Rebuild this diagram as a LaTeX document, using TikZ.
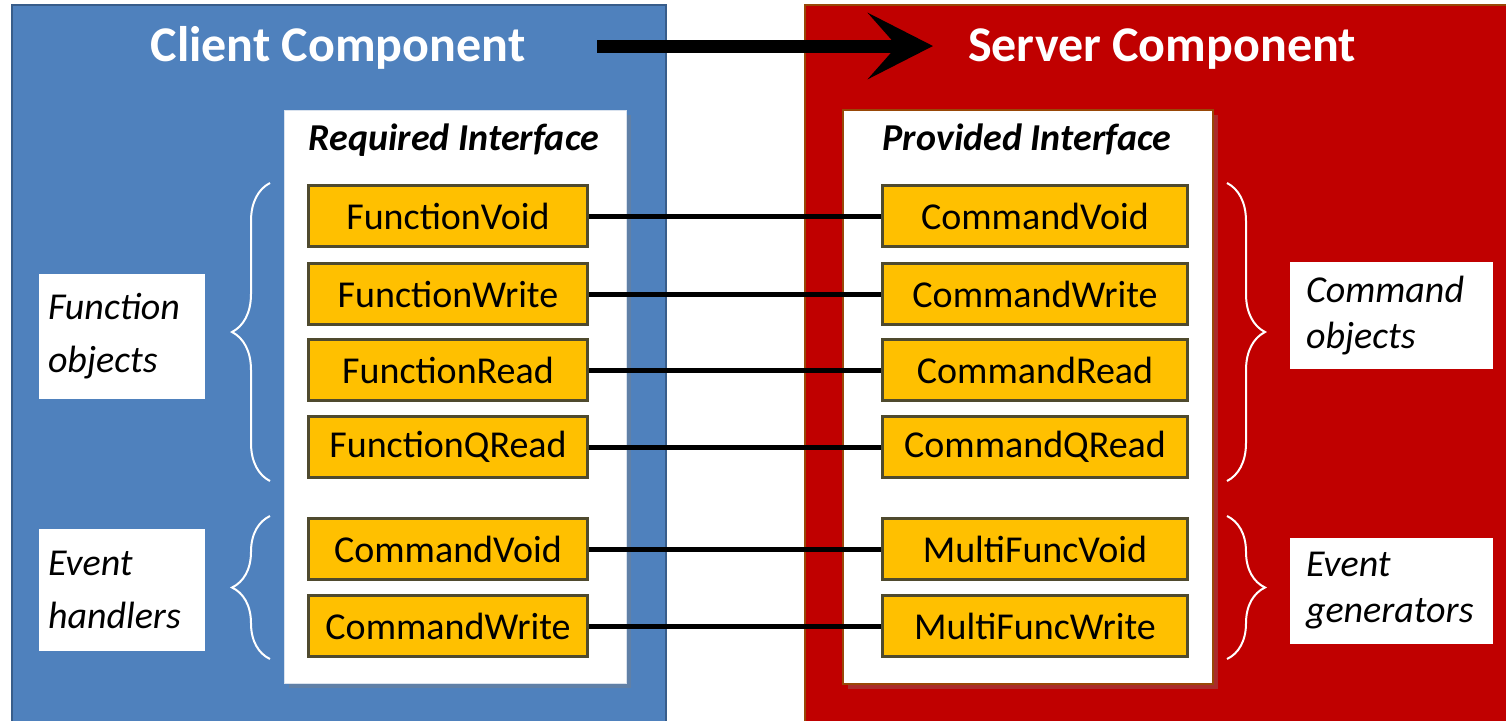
\documentclass[tikz,border=0pt]{standalone}
\usepackage{fontspec}
\setmainfont{Carlito}
\usetikzlibrary{arrows.meta,shadows,decorations.pathreplacing}
\definecolor{panelblue}{HTML}{4F81BD}
\definecolor{panelblueedge}{HTML}{385D8A}
\definecolor{panelred}{HTML}{C00000}
\definecolor{brownedge}{HTML}{984807}
\definecolor{boxorange}{HTML}{FFC000}
\definecolor{boxedge}{HTML}{4F4A2E}
\definecolor{paleedge}{HTML}{D9E2EE}
\begin{document}
\begin{tikzpicture}[x=0.5pt,y=-0.5pt,
  panel/.style={rectangle, line width=1pt, inner sep=0pt},
  ptitle/.style={text=white, font=\fontsize{25}{30}\selectfont\bfseries, inner sep=0pt, anchor=base},
  ibox/.style={rectangle, fill=white, inner sep=0pt, drop shadow={shadow xshift=2.5pt, shadow yshift=-2.5pt, opacity=0.35}},
  ititle/.style={font=\fontsize{19}{23}\selectfont\bfseries\itshape, inner sep=0pt, anchor=base},
  obox/.style={rectangle, fill=boxorange, draw=boxedge, line width=1.5pt, inner sep=0pt, font=\fontsize{19}{23}\selectfont},
  lobox/.style={obox, minimum width=139.5pt, minimum height=30.5pt},
  robox/.style={obox, minimum width=152.5pt, minimum height=30.5pt},
  conn/.style={line width=2.5pt, draw=black},
  lbl/.style={rectangle, fill=white, inner ysep=0pt, align=left},
  leftlbl/.style={lbl, inner xsep=4.5pt, text width=74pt, font=\fontsize{19}{26.5}\selectfont\itshape},
  rightlbl/.style={lbl, inner xsep=8pt, text width=85.5pt, font=\fontsize{19}{23}\selectfont\itshape},
  bracestyle/.style={draw=white, line width=1pt, decorate, decoration={brace, amplitude=19pt, aspect=0.5}},
  bigarrow/.style={line width=6.5pt, draw=black, -{Stealth[length=32.5pt, width=33pt, inset=14.5pt]}}
]
\useasboundingbox (0,0) rectangle (1506,720);
% panels
\node[panel, fill=panelblue, draw=panelblueedge, minimum width=327pt, minimum height=362pt] (client) at (339,367) {};
\node[panel, fill=panelred, draw=brownedge, minimum width=353pt, minimum height=362pt] (server) at (1158,367) {};
\node[ptitle] (clientT) at (338,61) {Client Component};
\node[ptitle] (serverT) at (1162,61) {Server Component};
% big arrow
\coordinate (arrS) at (597,46);
\coordinate (arrE) at (933,46);
\draw[bigarrow] (arrS) -- (arrE);
% interface boxes
\node[ibox, draw=paleedge, line width=0.5pt, minimum width=171pt, minimum height=286.5pt] (req) at (455,396.5) {};
\node[ibox, draw=brownedge, line width=0.8pt, minimum width=185pt, minimum height=287pt] (prov) at (1028,397) {};
\node[ititle] (reqT) at (454,150) {Required Interface};
\node[ititle] (provT) at (1027,150) {Provided Interface};
% left boxes
\node[lobox] (l1) at (448,216) {FunctionVoid};
\node[lobox] (l2) at (448,294) {FunctionWrite};
\node[lobox] (l3) at (448,370) {FunctionRead};
\node[lobox] (l4) at (448,447) {FunctionQRead};
\node[lobox] (l5) at (448,549) {CommandVoid};
\node[lobox] (l6) at (448,626) {CommandWrite};
% right boxes
\node[robox] (r1) at (1035,216) {CommandVoid};
\node[robox] (r2) at (1035,294) {CommandWrite};
\node[robox] (r3) at (1035,370) {CommandRead};
\node[robox] (r4) at (1035,447) {CommandQRead};
\node[robox] (r5) at (1035,549) {MultiFuncVoid};
\node[robox] (r6) at (1035,626) {MultiFuncWrite};
% connectors
\foreach \i in {1,...,6} { \draw[conn] (l\i.east) -- (r\i.west); }
% braces
\coordinate (lbA) at (270,481);
\coordinate (lbB) at (270,183);
\coordinate (lbC) at (270,659);
\coordinate (lbD) at (270,516);
\coordinate (rbA) at (1227,183);
\coordinate (rbB) at (1227,481);
\coordinate (rbC) at (1227,516);
\coordinate (rbD) at (1227,659);
\draw[bracestyle] (lbA) -- (lbB);
\draw[bracestyle] (lbC) -- (lbD);
\draw[bracestyle] (rbA) -- (rbB);
\draw[bracestyle] (rbC) -- (rbD);
% labels
\node[leftlbl, minimum height=62.5pt] (funcobj) at (122,336.5) {Function\\objects};
\node[leftlbl, minimum height=61pt] (evhand) at (122,590) {Event\\handlers};
\node[rightlbl, minimum height=53.5pt] (cmdobj) at (1391.5,315.5) {Command\\objects};
\node[rightlbl, minimum height=53pt] (evgen) at (1391.5,591) {Event\\generators};
\end{tikzpicture}
\end{document}
